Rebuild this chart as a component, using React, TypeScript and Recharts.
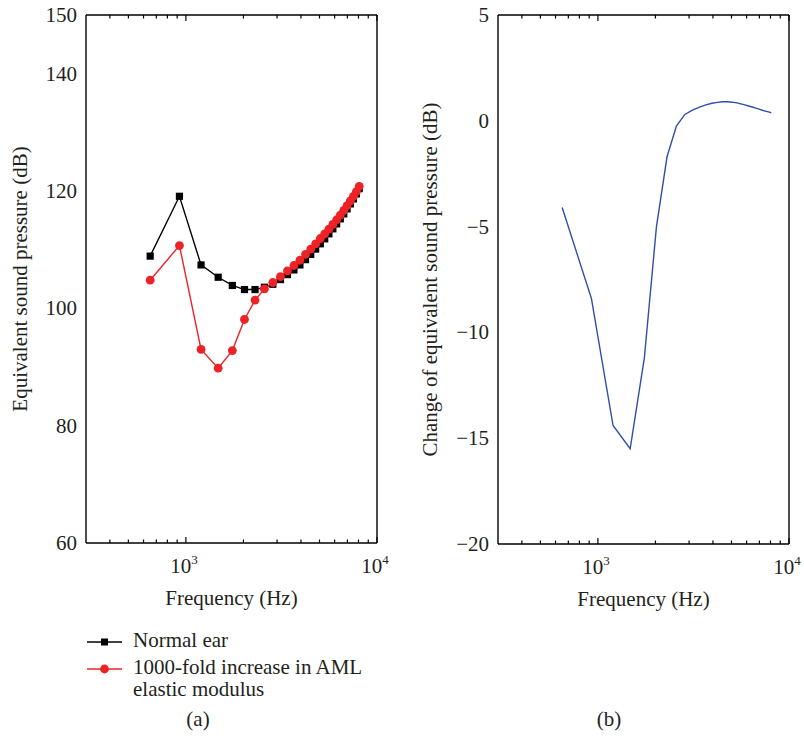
import { LineChart, Line, XAxis, YAxis } from "recharts";

// frequency points (Hz)
const frequencies = [
  650, 925, 1200, 1475, 1750, 2025, 2300, 2575, 2850, 3125, 3400, 3675, 3950, 4225,
  4500, 4775, 5050, 5325, 5600, 5875, 6150, 6425, 6700, 6975, 7250, 7525, 7800, 8075,
];

// (a) equivalent sound pressure, dB
const normalEar = [
  108.9, 119.1, 107.4, 105.3, 103.9, 103.2, 103.2, 103.6, 104.1, 104.9, 105.75, 106.55,
  107.4, 108.3, 109.2, 110.1, 111.0, 111.85, 112.7, 113.55, 114.4, 115.25, 116.1, 116.95,
  117.8, 118.65, 119.5, 120.4,
];
const amlIncrease = [
  104.8, 110.7, 93.0, 89.8, 92.8, 98.1, 101.4, 103.3, 104.4, 105.4, 106.4, 107.3, 108.2,
  109.2, 110.1, 111.0, 111.9, 112.7, 113.5, 114.3, 115.1, 115.9, 116.7, 117.5, 118.3,
  119.1, 119.9, 120.8,
];

// (b) change of equivalent sound pressure, dB
const pressureChange = [
  -4.1, -8.4, -14.4, -15.5, -11.2, -5.0, -1.7, -0.25, 0.3, 0.5, 0.65, 0.75, 0.83, 0.87,
  0.9, 0.9, 0.88, 0.85, 0.8, 0.75, 0.7, 0.65, 0.6, 0.55, 0.5, 0.46, 0.42, 0.38,
];

// axis ticks
const xTicks = [
  400, 500, 600, 700, 800, 900, 1000, 2000, 3000, 4000, 5000, 6000, 7000, 8000, 9000, 10000,
];
const decadeTicks = [1000, 10000];
const decadeExponents = ["3", "4"];
const yTicksA = [60, 80, 100, 120, 140, 150];
const yTicksB = [-20, -15, -10, -5, 0, 5];

const dataA = frequencies.map((f, i) => ({
  freq: f,
  normal: normalEar[i],
  aml: amlIncrease[i],
}));
const dataB = frequencies.map((f, i) => ({ freq: f, change: pressureChange[i] }));

const FONT = "'Liberation Serif', 'Times New Roman', serif";
const TEXT = "#231f20";
const RED = "#ec2227";
const BLUE = "#2f4fa8";

const BottomTick = (props: any) => {
  const { x, y, payload } = props;
  const idx = decadeTicks.indexOf(payload.value);
  const len = idx >= 0 ? 6 : 3.5;
  return (
    <g>
      <line x1={x} x2={x} y1={y} y2={y - len} stroke="#000" strokeWidth={1.2} />
      {idx >= 0 && (
        <text x={x - 2} y={y + 30} textAnchor="middle" fontFamily={FONT} fontSize={21} fill={TEXT}>
          10
          <tspan dy={-9} fontSize={13}>
            {decadeExponents[idx]}
          </tspan>
        </text>
      )}
    </g>
  );
};

const TopTick = (props: any) => {
  const { x, y, payload } = props;
  const len = decadeTicks.includes(payload.value) ? 6 : 3.5;
  return <line x1={x} x2={x} y1={y} y2={y + len} stroke="#000" strokeWidth={1.2} />;
};

const LeftTick = (props: any) => {
  const { x, y, payload } = props;
  const label = String(payload.value).replace("-", "\u2212");
  return (
    <text
      x={x - 9}
      y={y}
      textAnchor="end"
      dominantBaseline="central"
      fontFamily={FONT}
      fontSize={21}
      fill={TEXT}
    >
      {label}
    </text>
  );
};

const RightTick = (props: any) => {
  const { x, y } = props;
  return <line x1={x} x2={x - 6} y1={y} y2={y} stroke="#000" strokeWidth={1.2} />;
};

const yTitle = (text: string, baselineX: number) => (props: any) => {
  const vb = props.viewBox;
  const cy = vb.y + vb.height / 2;
  return (
    <text
      x={baselineX}
      y={cy}
      transform={`rotate(-90 ${baselineX} ${cy})`}
      textAnchor="middle"
      fontFamily={FONT}
      fontSize={21}
      fill={TEXT}
    >
      {text}
    </text>
  );
};

const xTitle = (props: any) => {
  const vb = props.viewBox;
  return (
    <text
      x={vb.x + vb.width / 2}
      y={vb.y + 62}
      textAnchor="middle"
      fontFamily={FONT}
      fontSize={21}
      fill={TEXT}
    >
      Frequency (Hz)
    </text>
  );
};

const SquareDot = (props: any) => {
  const { cx, cy, index } = props;
  return <rect key={`sq-${index}`} x={cx - 3.6} y={cy - 3.6} width={7.2} height={7.2} fill="#000" />;
};

const CircleDot = (props: any) => {
  const { cx, cy, index } = props;
  return <circle key={`ci-${index}`} cx={cx} cy={cy} r={4.4} fill={RED} />;
};

const axisLine = { stroke: "#000", strokeWidth: 1.4 };

const FrequencyAxes = ({ bottomHeight }: { bottomHeight: number }) => null;

const App = () => {
  return (
    <div style={{ position: "absolute", left: 0, top: 0, width: 804, height: 737, background: "#fff" }}>
      {/* panel (a) */}
      <div style={{ position: "absolute", left: 0, top: 0 }}>
        <LineChart width={400} height={620} data={dataA} margin={{ top: 0, right: 0, bottom: 0, left: 0 }}>
          <XAxis
            xAxisId="bottom"
            dataKey="freq"
            type="number"
            scale="log"
            domain={[300, 10000]}
            allowDataOverflow
            ticks={xTicks}
            interval={0}
            tickSize={0}
            tickMargin={0}
            tickLine={false}
            tick={<BottomTick />}
            axisLine={axisLine}
            height={77}
            label={xTitle}
          />
          <XAxis
            xAxisId="top"
            orientation="top"
            dataKey="freq"
            type="number"
            scale="log"
            domain={[300, 10000]}
            allowDataOverflow
            ticks={xTicks}
            interval={0}
            tickSize={0}
            tickMargin={0}
            tickLine={false}
            tick={<TopTick />}
            axisLine={axisLine}
            height={15}
          />
          <YAxis
            yAxisId="left"
            type="number"
            domain={[60, 150]}
            ticks={yTicksA}
            interval={0}
            tickSize={0}
            tickMargin={0}
            tickLine={false}
            tick={<LeftTick />}
            axisLine={axisLine}
            width={86}
            label={yTitle("Equivalent sound pressure (dB)", 27)}
          />
          <YAxis
            yAxisId="right"
            orientation="right"
            type="number"
            domain={[60, 150]}
            ticks={yTicksA}
            interval={0}
            tickSize={0}
            tickMargin={0}
            tickLine={false}
            tick={<RightTick />}
            axisLine={axisLine}
            width={23}
          />
          <Line
            xAxisId="bottom"
            yAxisId="left"
            type="linear"
            dataKey="normal"
            stroke="#000"
            strokeWidth={1.4}
            dot={SquareDot}
            isAnimationActive={false}
          />
          <Line
            xAxisId="bottom"
            yAxisId="left"
            type="linear"
            dataKey="aml"
            stroke={RED}
            strokeWidth={1.4}
            dot={CircleDot}
            isAnimationActive={false}
          />
        </LineChart>
        <svg width={400} height={117} style={{ position: "absolute", left: 0, top: 620 }}>
          <line x1={87} x2={122} y1={22} y2={22} stroke="#000" strokeWidth={1.4} />
          <rect x={101} y={18.5} width={7} height={7} fill="#000" />
          <text x={133} y={27} fontFamily={FONT} fontSize={21} fill={TEXT}>
            Normal ear
          </text>
          <line x1={87} x2={122} y1={49} y2={49} stroke={RED} strokeWidth={1.4} />
          <circle cx={104.5} cy={49} r={4.4} fill={RED} />
          <text x={133} y={54} fontFamily={FONT} fontSize={21} fill={TEXT}>
            1000-fold increase in AML
          </text>
          <text x={133} y={76} fontFamily={FONT} fontSize={21} fill={TEXT}>
            elastic modulus
          </text>
          <text x={198} y={106} textAnchor="middle" fontFamily={FONT} fontSize={21} fill={TEXT}>
            (a)
          </text>
        </svg>
      </div>

      {/* panel (b) */}
      <div style={{ position: "absolute", left: 400, top: 0 }}>
        <LineChart width={404} height={620} data={dataB} margin={{ top: 0, right: 0, bottom: 0, left: 0 }}>
          <XAxis
            xAxisId="bottom"
            dataKey="freq"
            type="number"
            scale="log"
            domain={[300, 10000]}
            allowDataOverflow
            ticks={xTicks}
            interval={0}
            tickSize={0}
            tickMargin={0}
            tickLine={false}
            tick={<BottomTick />}
            axisLine={axisLine}
            height={76}
            label={xTitle}
          />
          <XAxis
            xAxisId="top"
            orientation="top"
            dataKey="freq"
            type="number"
            scale="log"
            domain={[300, 10000]}
            allowDataOverflow
            ticks={xTicks}
            interval={0}
            tickSize={0}
            tickMargin={0}
            tickLine={false}
            tick={<TopTick />}
            axisLine={axisLine}
            height={15}
          />
          <YAxis
            yAxisId="left"
            type="number"
            domain={[-20, 5]}
            ticks={yTicksB}
            interval={0}
            tickSize={0}
            tickMargin={0}
            tickLine={false}
            tick={<LeftTick />}
            axisLine={axisLine}
            width={98}
            label={yTitle("Change of equivalent sound pressure (dB)", 37)}
          />
          <YAxis
            yAxisId="right"
            orientation="right"
            type="number"
            domain={[-20, 5]}
            ticks={yTicksB}
            interval={0}
            tickSize={0}
            tickMargin={0}
            tickLine={false}
            tick={<RightTick />}
            axisLine={axisLine}
            width={15}
          />
          <Line
            xAxisId="bottom"
            yAxisId="left"
            type="linear"
            dataKey="change"
            stroke={BLUE}
            strokeWidth={1.4}
            dot={false}
            isAnimationActive={false}
          />
        </LineChart>
        <svg width={404} height={117} style={{ position: "absolute", left: 0, top: 620 }}>
          <text x={209} y={106} textAnchor="middle" fontFamily={FONT} fontSize={21} fill={TEXT}>
            (b)
          </text>
        </svg>
      </div>
    </div>
  );
};

export default App;
